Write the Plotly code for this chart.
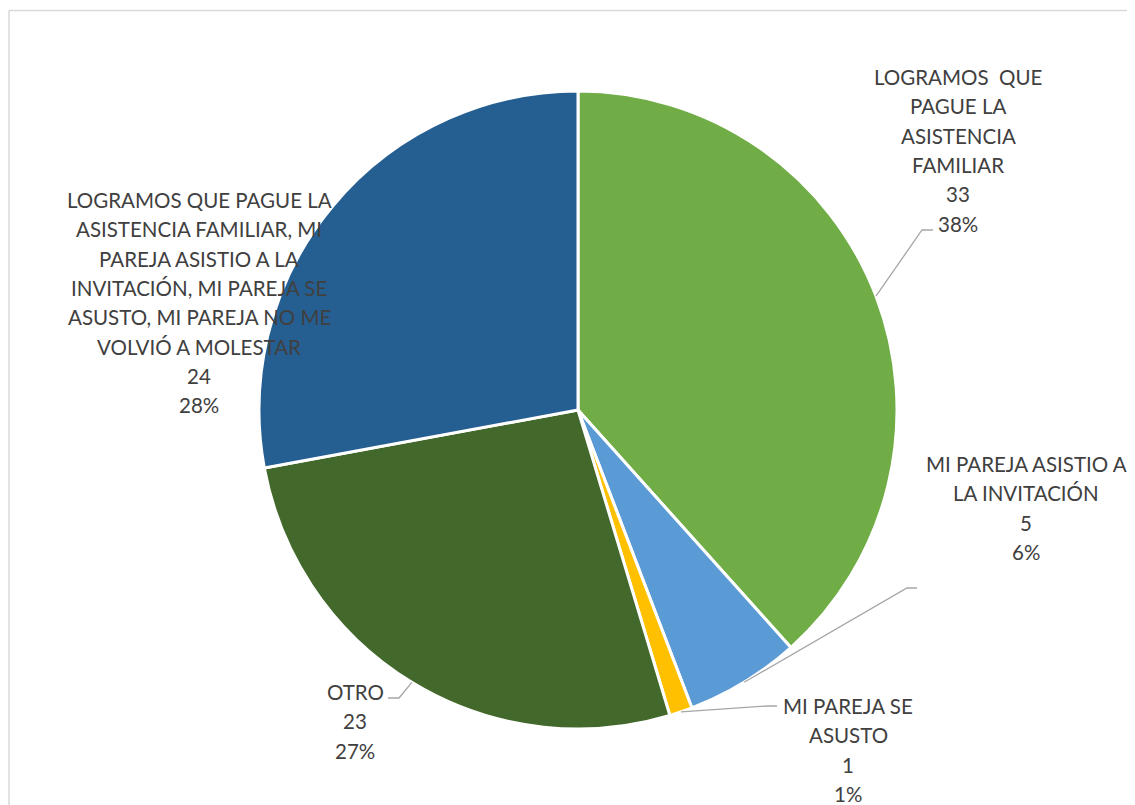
import math
import plotly.graph_objects as go

categories = [
    "LOGRAMOS  QUE PAGUE LA ASISTENCIA FAMILIAR",
    "MI PAREJA ASISTIO A LA INVITACIÓN",
    "MI PAREJA SE ASUSTO",
    "OTRO",
    "LOGRAMOS QUE PAGUE LA ASISTENCIA FAMILIAR, MI PAREJA ASISTIO A LA INVITACIÓN, MI PAREJA SE ASUSTO, MI PAREJA NO ME VOLVIÓ A MOLESTAR",
]
values = [33, 5, 1, 23, 24]
colors = ["#70AD47", "#5B9BD5", "#FFC000", "#43682B", "#255E91"]

# label text lines (as wrapped in the reference)
label_lines = [
    ["LOGRAMOS  QUE", "PAGUE LA", "ASISTENCIA", "FAMILIAR"],
    ["MI PAREJA ASISTIO A", "LA INVITACIÓN"],
    ["MI PAREJA SE", "ASUSTO"],
    ["OTRO"],
    ["LOGRAMOS QUE PAGUE LA", "ASISTENCIA FAMILIAR, MI", "PAREJA ASISTIO A LA",
     "INVITACIÓN, MI PAREJA SE", "ASUSTO, MI PAREJA NO ME", "VOLVIÓ A MOLESTAR"],
]

OFF = 8  # page body margin
W, H = 1135 - OFF, 805 - OFF
CX, CY, R = 578, 410, 319

def px(x):
    return (x - OFF) / W

def py(y):
    return 1 - (y - OFF) / H

fig = go.Figure(go.Pie(
    labels=categories,
    values=values,
    sort=False,
    direction="clockwise",
    rotation=0,
    marker=dict(colors=colors, line=dict(color="white", width=3)),
    textinfo="none",
    hoverinfo="label+value+percent",
    domain=dict(x=[px(CX - R), px(CX + R)], y=[py(CY + R), py(CY - R)]),
))

total = sum(values)
pcts = [round(v / total * 100) for v in values]

# label block placement: (center x, first line y) in pixels
label_pos = [(958, 77), (1026, 464), (848, 706), (355, 692), (199, 200)]
LINE = 29.3
annotations = []
for i, lines in enumerate(label_lines):
    full = lines + [str(values[i]), f"{pcts[i]}%"]
    cx, y0 = label_pos[i]
    for j, t in enumerate(full):
        annotations.append(dict(
            x=px(cx), y=py(y0 + j * LINE), xref="paper", yref="paper",
            text=t, showarrow=False, xanchor="center", yanchor="middle",
            font=dict(family="Lato, Carlito, 'Open Sans', sans-serif", size=20.5, color="#404040"),
        ))

# leader lines: start at slice mid-angle on the rim
elbows = {0: [(922, 230), (933, 230)],
          1: [(907, 588), (917, 588)],
          2: [(767, 706), (777, 706)],
          3: [(399, 698), (388, 698)]}
shapes = []
cum = 0
for i, v in enumerate(values):
    mid = (cum + v / 2) / total * 2 * math.pi
    cum += v
    if i not in elbows:
        continue
    sx = CX + R * math.sin(mid)
    sy = CY - R * math.cos(mid)
    pts = [(sx, sy)] + elbows[i]
    path = "M " + " L ".join(f"{px(x)},{py(y)}" for x, y in pts)
    shapes.append(dict(type="path", path=path, xref="paper", yref="paper",
                       line=dict(color="#A6A6A6", width=1.3)))

# chart area border (top and left edges visible)
border = dict(color="#D9D9D9", width=1.5)
shapes.append(dict(type="line", xref="paper", yref="paper",
                   x0=px(9), x1=px(1135), y0=py(10.5), y1=py(10.5), line=border, layer="below"))
shapes.append(dict(type="line", xref="paper", yref="paper",
                   x0=px(9), x1=px(9), y0=py(10.5), y1=py(805), line=border, layer="below"))

fig.update_layout(
    width=W, height=H,
    margin=dict(l=0, r=0, t=0, b=0),
    paper_bgcolor="white",
    showlegend=False,
    annotations=annotations,
    shapes=shapes,
)

fig.write_html("out.html")
